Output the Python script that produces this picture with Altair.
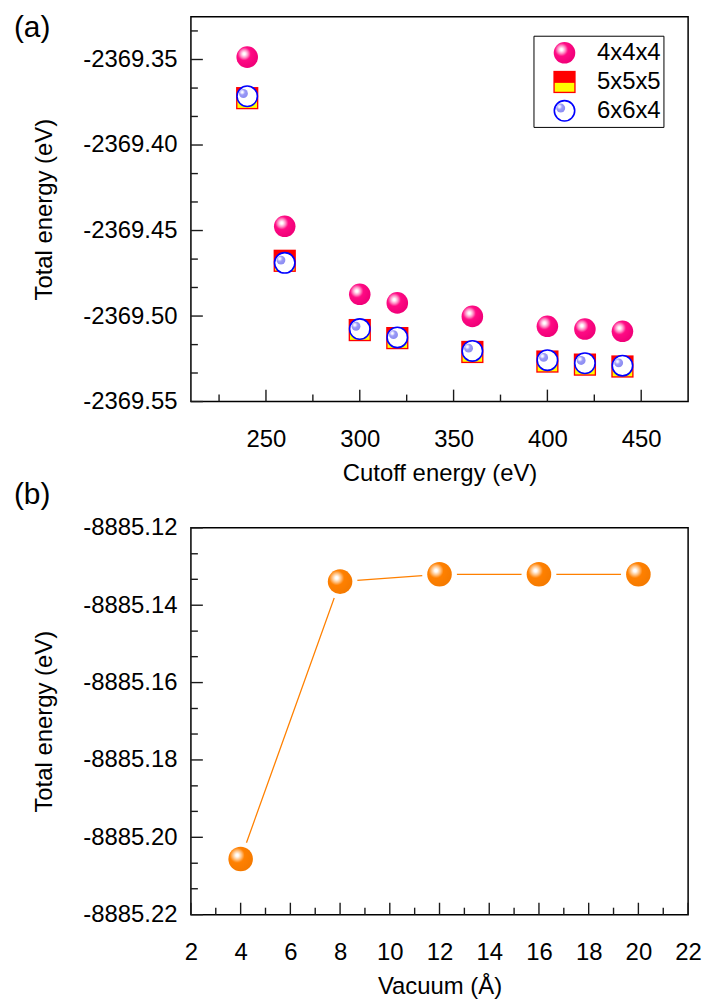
import altair as alt
import pandas as pd

# ---------------- data ----------------
cutoff = [240, 260, 300, 320, 360, 400, 420, 440]
energy_444 = [-2369.3486, -2369.4475, -2369.4873, -2369.4923, -2369.5002, -2369.5060, -2369.5076, -2369.5089]
energy_555 = [-2369.3726, -2369.4677, -2369.5082, -2369.5129, -2369.5210, -2369.5266, -2369.5284, -2369.5295]
energy_664 = [-2369.3715, -2369.4689, -2369.5076, -2369.5125, -2369.5204, -2369.5258, -2369.5276, -2369.5290]
series_names = ["4x4x4", "5x5x5", "6x6x4"]

vacuum = [4, 8, 12, 16, 20]
energy_vac = [-8885.2056, -8885.1339, -8885.1320, -8885.1320, -8885.1320]

cut_ticks_major = [250, 300, 350, 400, 450]
cut_ticks_minor = [225, 275, 325, 375, 425]
e1_ticks_major = [-2369.55, -2369.50, -2369.45, -2369.40, -2369.35]
e1_ticks_minor = [-2369.5333, -2369.5167, -2369.4833, -2369.4667, -2369.4333,
                  -2369.4167, -2369.3833, -2369.3667, -2369.3333]
vac_ticks_major = [2, 4, 6, 8, 10, 12, 14, 16, 18, 20, 22]
vac_ticks_minor = [3, 5, 7, 9, 11, 13, 15, 17, 19, 21]
e2_ticks_major = [-8885.22, -8885.20, -8885.18, -8885.16, -8885.14, -8885.12]
e2_ticks_minor = [-8885.2133, -8885.2067, -8885.1933, -8885.1867, -8885.1733,
                  -8885.1667, -8885.1533, -8885.1467, -8885.1333, -8885.1267]

panel_labels = ["(a)", "(b)"]

# ---------------- style ----------------
FONT = "Liberation Sans, Arial, Helvetica, sans-serif"
W = 500
H1 = 387
H2 = 389
TICK_COLOR = "#1a1a1a"
MAJ = 12
MIN = 7
ORIGIN_X, ORIGIN_Y = 191, 12.7   # where the upper plot area starts on the page


def sphere(base, halo, edge):
    return alt.RadialGradient(
        gradient="radial", x1=0.36, y1=0.35, r1=0, x2=0.36, y2=0.35, r2=0.66,
        stops=[alt.GradientStop(color="#ffffff", offset=0.0),
               alt.GradientStop(color="#ffffff", offset=0.08),
               alt.GradientStop(color=halo, offset=0.28),
               alt.GradientStop(color=base, offset=0.46),
               alt.GradientStop(color=edge, offset=1.0)])


PINK = sphere("#ff0a84", "#ff8cc4", "#f00078")
ORANGE = sphere("#ff8000", "#ffc080", "#f57a00")
LAVENDER = sphere("#9a9af6", "#d4d4ff", "#8c8cf2")
YELLOW_PATH = "M -0.88 0.08 L 0.88 0.08 L 0.88 0.88 L -0.88 0.88 Z"

xs1 = alt.Scale(domain=[210, 475], nice=False, zero=False)
ys1 = alt.Scale(domain=[-2369.55, -2369.325], nice=False, zero=False)
xs2 = alt.Scale(domain=[2, 22], nice=False, zero=False)
ys2 = alt.Scale(domain=[-8885.22, -8885.12], nice=False, zero=False)

LABEL_EXPR = "'-' + format(-datum.value, '.2f')"
ax_x1 = alt.Axis(values=cut_ticks_major, format="d", title="Cutoff energy (eV)",
                 labelPadding=26, titlePadding=10, labelFlush=False)
ax_y1 = alt.Axis(values=e1_ticks_major, labelExpr=LABEL_EXPR, labelFlush=False,
                 title="Total energy (eV)", labelPadding=14, titlePadding=26)
ax_x2 = alt.Axis(values=vac_ticks_major, format="d", title="Vacuum (Å)",
                 labelPadding=26, titlePadding=10, labelFlush=False)
ax_y2 = alt.Axis(values=e2_ticks_major, labelExpr=LABEL_EXPR, labelFlush=False,
                 title="Total energy (eV)", labelPadding=14, titlePadding=26)

one_row = pd.DataFrame({"k": [0]})


def y_ticks(values, scale, axis, length):
    return alt.Chart(pd.DataFrame({"v": values})).mark_rule(
        color=TICK_COLOR, strokeWidth=1.4).encode(
        y=alt.Y("v:Q", scale=scale, axis=axis), x=alt.value(0), x2=alt.value(length))


def x_ticks(values, scale, axis, length, h):
    return alt.Chart(pd.DataFrame({"v": values})).mark_rule(
        color=TICK_COLOR, strokeWidth=1.4).encode(
        x=alt.X("v:Q", scale=scale, axis=axis), y=alt.value(h), y2=alt.value(h - length))


def label_text(txt, x, y, size=24):
    return alt.Chart(one_row).mark_text(
        text=txt, font=FONT, fontSize=size, align="left", baseline="alphabetic",
        color="black").encode(x=alt.value(x), y=alt.value(y))


# invisible page anchor: fixes the top-left corner of the whole figure
anchor = alt.Chart(one_row).mark_rect(fill="white", opacity=0, strokeWidth=0).encode(
    x=alt.value(-ORIGIN_X), x2=alt.value(-ORIGIN_X + 1),
    y=alt.value(-ORIGIN_Y), y2=alt.value(-ORIGIN_Y + 1))

# ---------------- panel (a) ----------------
df1 = pd.DataFrame({"cutoff": cutoff, "e444": energy_444,
                    "e555": energy_555, "e664": energy_664})
base1 = alt.Chart(df1)
X1 = alt.X("cutoff:Q", scale=xs1, axis=ax_x1)


def Y1(field):
    return alt.Y(field + ":Q", scale=ys1, axis=ax_y1)


p444 = base1.mark_point(shape="circle", filled=True, size=470, fill=PINK,
                        strokeWidth=0, opacity=1).encode(x=X1, y=Y1("e444"))
p555_red = base1.mark_point(shape="square", filled=True, size=500, fill="#ff0000",
                            strokeWidth=0, opacity=1).encode(x=X1, y=Y1("e555"))
p555_yel = base1.mark_point(shape=YELLOW_PATH, filled=True, size=500, fill="#ffff00",
                            strokeWidth=0, opacity=1).encode(x=X1, y=Y1("e555"))
p664_ring = base1.mark_point(shape="circle", filled=True, size=420, fill="#ffffff",
                             stroke="#0000ff", strokeWidth=1.6, opacity=1).encode(
    x=X1, y=Y1("e664"))
p664_ball = base1.mark_point(shape="circle", filled=True, size=80, fill=LAVENDER,
                             strokeWidth=0, opacity=1, xOffset=-3.8, yOffset=-2.8).encode(
    x=X1, y=Y1("e664"))

# legend (drawn inside the plot, like the original)
LX, LT = 375.7, [36.3, 65.6, 94.6]
leg_box = alt.Chart(one_row).mark_rect(fill="white", stroke="black", strokeWidth=1).encode(
    x=alt.value(345), x2=alt.value(475.7), y=alt.value(19.6), y2=alt.value(111.3))
leg_444 = alt.Chart(one_row).mark_point(shape="circle", filled=True, size=470, fill=PINK,
                                        strokeWidth=0, opacity=1).encode(
    x=alt.value(LX), y=alt.value(LT[0]))
leg_555r = alt.Chart(one_row).mark_point(shape="square", filled=True, size=500, fill="#ff0000",
                                         strokeWidth=0, opacity=1).encode(
    x=alt.value(LX), y=alt.value(LT[1]))
leg_555y = alt.Chart(one_row).mark_point(shape=YELLOW_PATH, filled=True, size=500,
                                         fill="#ffff00", strokeWidth=0, opacity=1).encode(
    x=alt.value(LX), y=alt.value(LT[1]))
leg_664r = alt.Chart(one_row).mark_point(shape="circle", filled=True, size=420, fill="#ffffff",
                                         stroke="#0000ff", strokeWidth=1.6, opacity=1).encode(
    x=alt.value(LX), y=alt.value(LT[2]))
leg_664b = alt.Chart(one_row).mark_point(shape="circle", filled=True, size=80, fill=LAVENDER,
                                         strokeWidth=0, opacity=1, xOffset=-3.8,
                                         yOffset=-2.8).encode(
    x=alt.value(LX), y=alt.value(LT[2]))
leg_txt = [alt.Chart(one_row).mark_text(text=name, font=FONT, fontSize=24, align="left",
                                        baseline="middle", color="black").encode(
    x=alt.value(408.3), y=alt.value(LT[i])) for i, name in enumerate(series_names)]

panel_a = alt.layer(
    anchor,
    p444, p555_red, p555_yel, p664_ring, p664_ball,
    y_ticks(e1_ticks_major, ys1, ax_y1, MAJ), y_ticks(e1_ticks_minor, ys1, ax_y1, MIN),
    x_ticks(cut_ticks_major, xs1, ax_x1, MAJ, H1), x_ticks(cut_ticks_minor, xs1, ax_x1, MIN, H1),
    leg_box, leg_444, leg_555r, leg_555y, leg_664r, leg_664b, *leg_txt,
    label_text(panel_labels[0], -178, 20.8, 30),
).properties(width=W, height=H1)

# ---------------- panel (b) ----------------
df2 = pd.DataFrame({"vac": vacuum, "e": energy_vac})
base2 = alt.Chart(df2)
X2 = alt.X("vac:Q", scale=xs2, axis=ax_x2)
Y2 = alt.Y("e:Q", scale=ys2, axis=ax_y2)

line2 = base2.mark_line(color="#ff8000", strokeWidth=1.3).encode(x=X2, y=Y2)
gap2 = base2.mark_point(shape="circle", filled=True, size=1225, fill="#ffffff",
                        strokeWidth=0, opacity=1).encode(x=X2, y=Y2)
ball2 = base2.mark_point(shape="circle", filled=True, size=610, fill=ORANGE,
                         strokeWidth=0, opacity=1).encode(x=X2, y=Y2)

panel_b = alt.layer(
    line2, gap2, ball2,
    y_ticks(e2_ticks_major, ys2, ax_y2, MAJ), y_ticks(e2_ticks_minor, ys2, ax_y2, MIN),
    x_ticks(vac_ticks_major, xs2, ax_x2, MAJ, H2), x_ticks(vac_ticks_minor, xs2, ax_x2, MIN, H2),
    label_text(panel_labels[1], -178, -24.3, 30),
).properties(width=W, height=H2)

chart = alt.vconcat(panel_a, panel_b, spacing=127, bounds="flush").properties(
    padding={"left": 0, "top": 0, "right": 5, "bottom": 2},
    background="white",
).configure_view(stroke="#000000", strokeWidth=1.5).configure_axis(
    domain=False, ticks=False, grid=False,
    labelFont=FONT, labelFontSize=24, labelColor="black",
    titleFont=FONT, titleFontSize=24, titleFontWeight="normal", titleColor="black",
)

chart.save("out.html", embed_options={"renderer": "svg", "actions": False})
